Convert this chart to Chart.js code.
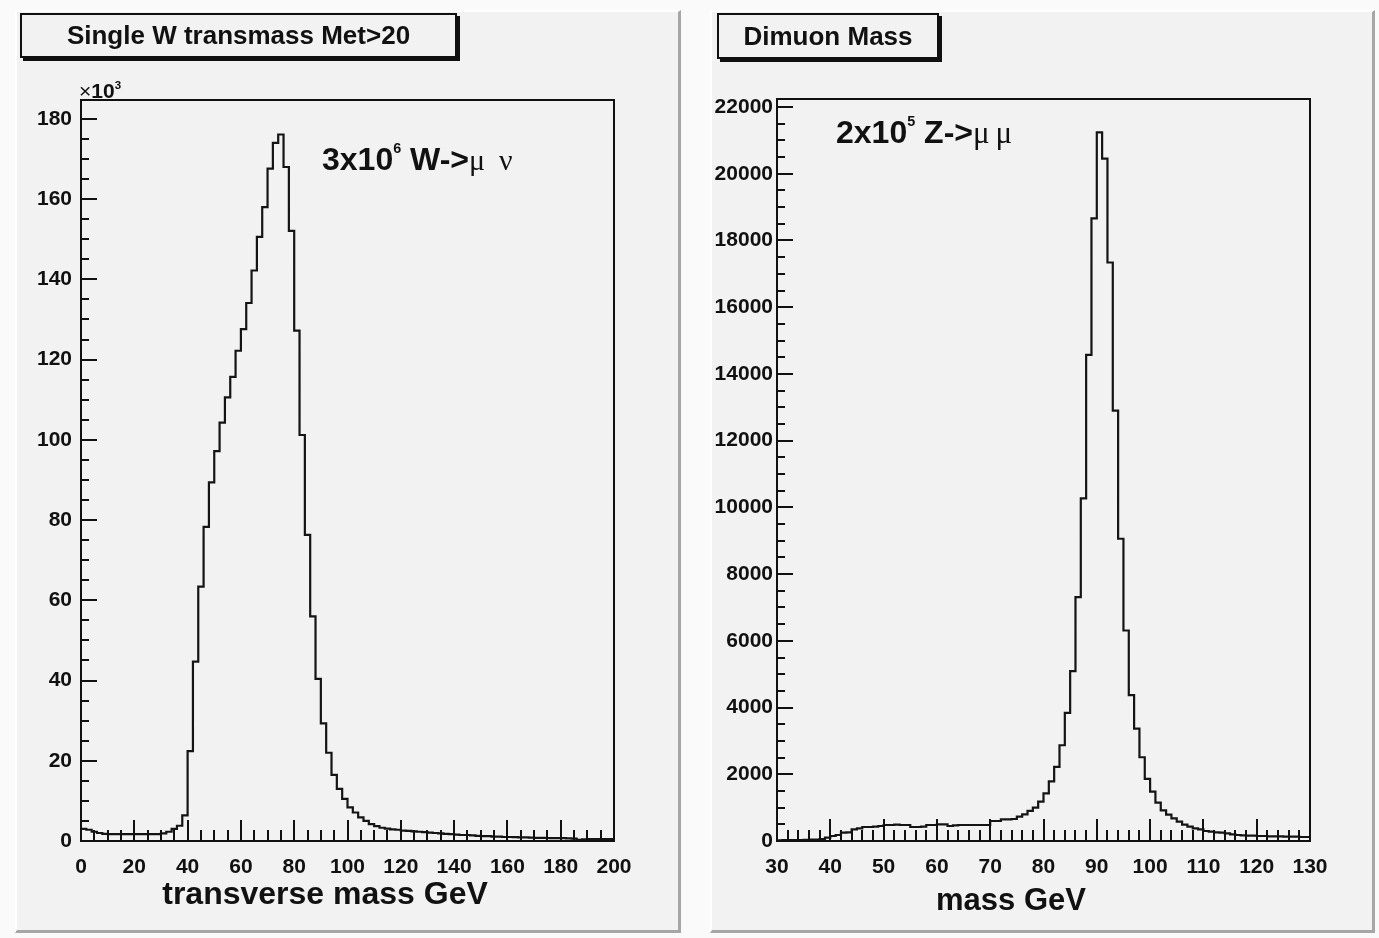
<!DOCTYPE html>
<html lang="en">
<head>
<meta charset="UTF-8">
<title>W and Z mass histograms</title>
<script src="https://cdn.jsdelivr.net/npm/chart.js@4.4.1/dist/chart.umd.min.js"></script>
<style>
  body { margin: 0; background: #fafafa; width: 1379px; height: 938px; position: relative; overflow: hidden;
         font-family: "Liberation Sans", Arial, sans-serif; color: #111; }
  .pad { position: absolute; box-sizing: border-box; background: #f2f2f2;
         border-left: 2px solid #fff; border-top: 2px solid #fff;
         border-right: 3px solid #a6a6a6; border-bottom: 3px solid #a6a6a6; }
  canvas { position: absolute; }
  .titlebox { position: absolute; box-sizing: border-box; border: 2px solid #111; box-shadow: 3px 3px 0 #111;
              background: #f2f2f2; font-weight: bold; font-size: 26px;
              display: flex; align-items: center; justify-content: center; }
  .txt { position: absolute; white-space: nowrap; line-height: 1; font-weight: bold; }
  .greek { font-family: "Liberation Serif", "Times New Roman", serif; font-weight: normal; }
  .sup { position: relative; font-size: 45%; }
</style>
</head>
<body>
<div class="pad" style="left:15px; top:10px; width:666px; height:923px;"></div>
<div class="pad" style="left:710px; top:10px; width:665px; height:923px;"></div>

<canvas id="wChart" width="666" height="923" style="left:15px; top:10px;"></canvas>
<canvas id="zChart" width="663" height="923" style="left:712px; top:10px;"></canvas>

<div class="titlebox" style="left:20px; top:13px; width:437px; height:45px;">Single W transmass Met&gt;20</div>
<div class="titlebox" style="left:717px; top:13px; width:222px; height:46px;">Dimuon Mass</div>

<div class="txt" style="left:79px; top:80px; font-size:21px;"><span style="font-weight:normal">×</span>10<span class="sup" style="top:-9px; font-size:55%;">3</span></div>

<div class="txt" style="left:322px; top:143px; font-size:32px;">3x10<span class="sup" style="top:-17px;">6</span> W-&gt;<span class="greek" style="font-size:30px;">μ</span><span class="greek" style="font-size:30px; margin-left:14px;">ν</span></div>
<div class="txt" style="left:836px; top:116px; font-size:32px;">2x10<span class="sup" style="top:-17px;">5</span> Z-&gt;<span class="greek" style="font-size:31px; letter-spacing:6px;">μμ</span></div>

<div class="txt" style="left:125px; top:877px; width:400px; text-align:center; font-size:32px;">transverse mass GeV</div>
<div class="txt" style="left:811px; top:884px; width:400px; text-align:center; font-size:31px;">mass GeV</div>

<script>
// transverse mass, 2 GeV bins (low edges), counts in thousands
const wMassLow = [0, 2, 4, 6, 8, 10, 12, 14, 16, 18, 20, 22, 24, 26, 28, 30, 32, 34, 36, 38,
  40, 42, 44, 46, 48, 50, 52, 54, 56, 58, 60, 62, 64, 66, 68, 70, 72, 74, 76, 78,
  80, 82, 84, 86, 88, 90, 92, 94, 96, 98, 100, 102, 104, 106, 108, 110, 112, 114, 116, 118,
  120, 122, 124, 126, 128, 130, 132, 134, 136, 138, 140, 142, 144, 146, 148, 150, 152, 154, 156, 158,
  160, 162, 164, 166, 168, 170, 172, 174, 176, 178, 180, 182, 184, 186, 188, 190, 192, 194, 196, 198];
const wCounts = [3.0, 2.8, 2.3, 2.0, 1.8, 1.7, 1.7, 1.7, 1.7, 1.7,
  1.7, 1.7, 1.7, 1.7, 1.7, 1.9, 2.3, 3.0, 3.8, 6.4,
  22.4, 44.7, 63.4, 78.3, 89.4, 97.2, 104.3, 110.6, 115.7, 122.2,
  127.6, 134.1, 142.2, 150.6, 158.0, 167.6, 174.0, 176.1, 168.0, 152.1,
  127.2, 101.2, 76.3, 56.0, 40.4, 29.3, 22.0, 16.5, 13.0, 10.5,
  8.4, 7.1, 5.9, 5.0, 4.2, 3.7, 3.3, 3.1, 2.9, 2.8,
  2.6, 2.5, 2.4, 2.3, 2.2, 2.1, 2.0, 1.9, 1.8, 1.7,
  1.6, 1.5, 1.5, 1.4, 1.3, 1.2, 1.2, 1.1, 1.1, 1.0,
  1.0, 0.95, 0.9, 0.9, 0.85, 0.8, 0.8, 0.75, 0.7, 0.7,
  0.7, 0.65, 0.6, 0.3, 0.4, 0.5, 0.5, 0.5, 0.5, 0.5];
const wXTicks = [0, 20, 40, 60, 80, 100, 120, 140, 160, 180, 200];
const wYTicks = [0, 20, 40, 60, 80, 100, 120, 140, 160, 180];

// dimuon mass, 1 GeV bins (low edges)
const zMassLow = [30, 31, 32, 33, 34, 35, 36, 37, 38, 39, 40, 41, 42, 43, 44, 45, 46, 47, 48, 49,
  50, 51, 52, 53, 54, 55, 56, 57, 58, 59, 60, 61, 62, 63, 64, 65, 66, 67, 68, 69,
  70, 71, 72, 73, 74, 75, 76, 77, 78, 79, 80, 81, 82, 83, 84, 85, 86, 87, 88, 89,
  90, 91, 92, 93, 94, 95, 96, 97, 98, 99, 100, 101, 102, 103, 104, 105, 106, 107, 108, 109,
  110, 111, 112, 113, 114, 115, 116, 117, 118, 119, 120, 121, 122, 123, 124, 125, 126, 127, 128, 129];
const zCounts = [20, 25, 25, 30, 30, 35, 40, 45, 60, 100,
  150, 180, 250, 260, 350, 380, 420, 420, 430, 450,
  480, 480, 490, 480, 480, 420, 420, 430, 480, 480,
  500, 500, 450, 470, 480, 480, 480, 480, 480, 480,
  600, 600, 650, 650, 660, 730, 800, 900, 1000, 1180,
  1430, 1790, 2220, 2870, 3840, 5090, 7310, 10270, 14570, 18660,
  21240, 20450, 17340, 12900, 9060, 6310, 4370, 3370, 2510, 1860,
  1480, 1150, 920, 790, 680, 580, 490, 430, 380, 350,
  300, 280, 260, 250, 230, 200, 180, 170, 160, 160,
  150, 150, 140, 140, 140, 130, 130, 130, 120, 120];
const zXTicks = [30, 40, 50, 60, 70, 80, 90, 100, 110, 120, 130];
const zYTicks = [0, 2000, 4000, 6000, 8000, 10000, 12000, 14000, 16000, 18000, 20000, 22000];

Chart.defaults.font.family = '"Liberation Sans", Arial, sans-serif';
Chart.defaults.font.weight = 'bold';
Chart.defaults.color = '#111';

// ROOT style frame with inward ticks
const rootFrame = {
  id: 'rootFrame',
  afterDraw(chart, args, o) {
    const { ctx, chartArea: a, scales: { x, y } } = chart;
    ctx.save();
    ctx.strokeStyle = '#111';
    ctx.lineWidth = 2;
    ctx.beginPath();
    const nx = Math.round((x.max - x.min) / o.xMinor);
    for (let i = 0; i <= nx; i++) {
      const px = Math.round(x.getPixelForValue(x.min + i * o.xMinor));
      const len = i % o.xRatio === 0 ? o.xMajorLen : o.xMinorLen;
      ctx.moveTo(px, a.bottom);
      ctx.lineTo(px, a.bottom - len);
    }
    const ny = Math.floor((y.max - y.min) / o.yMinor);
    for (let i = 0; i <= ny; i++) {
      const py = Math.round(y.getPixelForValue(y.min + i * o.yMinor));
      const len = i % o.yRatio === 0 ? o.yMajorLen : o.yMinorLen;
      ctx.moveTo(a.left, py);
      ctx.lineTo(a.left + len, py);
    }
    ctx.stroke();
    ctx.strokeRect(a.left, a.top, a.right - a.left, a.bottom - a.top);
    ctx.restore();
  }
};

function makeHist(id, lows, counts, xTicks, yTicks, cfg) {
  const binW = lows[1] - lows[0];
  const pts = lows.map((x, i) => ({ x: x, y: counts[i] }));
  pts.push({ x: lows[lows.length - 1] + binW, y: counts[counts.length - 1] });
  return new Chart(document.getElementById(id), {
    type: 'line',
    data: { datasets: [{ data: pts, stepped: true, borderColor: '#141414', borderWidth: 2.2,
                         pointRadius: 0, fill: false, tension: 0 }] },
    options: {
      responsive: false,
      animation: false,
      layout: { padding: cfg.padding },
      plugins: { legend: { display: false }, tooltip: { enabled: false }, rootFrame: cfg.frame },
      scales: {
        x: {
          type: 'linear', min: cfg.xMin, max: cfg.xMax,
          grid: { display: false, drawTicks: false }, border: { display: false },
          afterBuildTicks: s => { s.ticks = xTicks.map(v => ({ value: v })); },
          afterFit: s => { s.height = cfg.xAxisH; },
          ticks: { autoSkip: false, maxRotation: 0, padding: 14,
                   font: { size: 21, weight: 'bold' }, callback: v => String(v) }
        },
        y: {
          min: 0, max: cfg.yMax,
          grid: { display: false, drawTicks: false }, border: { display: false },
          afterBuildTicks: s => { s.ticks = yTicks.map(v => ({ value: v })); },
          afterFit: s => { s.width = cfg.yAxisW; },
          ticks: { autoSkip: false, padding: cfg.yPad,
                   font: { size: 21, weight: 'bold' }, callback: v => String(v) }
        }
      }
    },
    plugins: [rootFrame]
  });
}

makeHist('wChart', wMassLow, wCounts, wXTicks, wYTicks, {
  padding: { left: 0, right: 67, top: 90, bottom: 0 },
  xAxisH: 92, yAxisW: 66, yPad: 9,
  xMin: 0, xMax: 200, yMax: 184.7,
  frame: { xMinor: 5, xRatio: 4, xMajorLen: 21, xMinorLen: 11,
           yMinor: 5, yRatio: 4, yMajorLen: 16, yMinorLen: 8 }
});

makeHist('zChart', zMassLow, zCounts, zXTicks, zYTicks, {
  padding: { left: 0, right: 65, top: 89, bottom: 0 },
  xAxisH: 92, yAxisW: 65, yPad: 4,
  xMin: 30, xMax: 130, yMax: 22240,
  frame: { xMinor: 2, xRatio: 5, xMajorLen: 22, xMinorLen: 11,
           yMinor: 500, yRatio: 4, yMajorLen: 16, yMinorLen: 8 }
});
</script>
</body>
</html>
